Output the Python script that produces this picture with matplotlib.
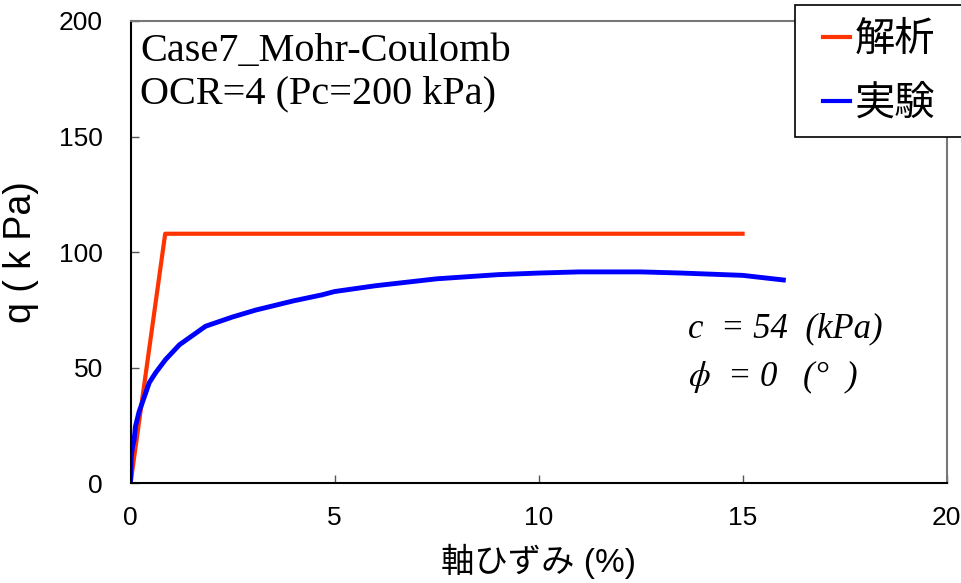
import matplotlib
matplotlib.use("Agg")
import matplotlib.pyplot as plt
from matplotlib.patches import Rectangle

plt.rcParams['mathtext.fontset'] = 'stix'

# analysis (Mohr-Coulomb) result
strain_ana = [0, 0.85, 15.0]
q_ana = [0, 108, 108]

# test result
strain_exp = [0, 0.02, 0.05, 0.09, 0.12, 0.21, 0.29, 0.46, 0.62, 0.86, 1.2,
              1.84, 2.5, 3.07, 4.0, 4.7, 5.0, 6.0, 7.5, 9.0, 10.0, 11.0,
              12.5, 13.5, 15.0, 16.0]
q_exp = [0, 12, 16, 19, 24.6, 31, 35, 43.6, 48, 53.6, 60,
         68, 72, 75, 79, 81.6, 83, 85.5, 88.5, 90.3, 91, 91.5,
         91.5, 91, 90, 88]

labels = ['解析', '実験']
xticks = [0, 5, 10, 15, 20]
yticks = [0, 50, 100, 150, 200]

W, H = 961, 583
fig = plt.figure(figsize=(W / 100, H / 100), dpi=100)
ax = fig.add_axes([0.1358, 0.1707, 0.8492, 0.7933])

ax.plot(strain_ana, q_ana, color='#ff3300', lw=3, label=labels[0])
ax.plot(strain_exp, q_exp, color='#0000ff', lw=3.5, label=labels[1])

ax.set_xlim(0, 20)
ax.set_ylim(0, 200)
ax.set_xticks(xticks)
ax.set_yticks(yticks)
ax.tick_params(direction='in', length=6, width=1, colors='#555555',
               labelcolor='black', labelsize=19)
ax.tick_params(axis='y', pad=20)
ax.tick_params(axis='x', pad=16)
for t in ax.get_xticklabels() + ax.get_yticklabels():
    t.set_family('Liberation Sans')

for s in ['left', 'bottom']:
    ax.spines[s].set_color('black')
    ax.spines[s].set_linewidth(1.5)
for s in ['top', 'right']:
    ax.spines[s].set_color('#777777')
    ax.spines[s].set_linewidth(1.5)

ax.set_xlabel('軸ひずみ (%)', fontsize=24,
              family=['Liberation Sans', 'Noto Sans CJK JP'], labelpad=10)
ax.set_ylabel('q ( k Pa)', fontsize=27, family='Liberation Sans', labelpad=14)

ax.text(0.012, 0.975, 'Case7_Mohr-Coulomb\nOCR=4 (Pc=200 kPa)',
        transform=ax.transAxes, va='top', ha='left',
        family='Liberation Serif', fontsize=29, linespacing=1.2)

ax.text(0.683, 0.317, 'c  = 54  (kPa)', transform=ax.transAxes,
        va='baseline', family='Liberation Serif', style='italic', fontsize=25)
ax.text(0.683, 0.21, r'$\phi$  = 0   (°  )', transform=ax.transAxes,
        va='baseline', family='Liberation Serif', style='italic', fontsize=25)

# legend box runs off the right edge of the figure
fig.patches.append(Rectangle((795 / W, 1 - 137 / H), 180 / W, 132 / H,
                             transform=fig.transFigure, facecolor='white',
                             edgecolor='black', lw=1.2, zorder=3))
leg = fig.legend(loc='upper left', bbox_to_anchor=(823 / W, 1 - 19 / H),
                 prop={'family': 'Noto Sans CJK JP', 'size': 29},
                 handlelength=0.68, handletextpad=0.1, borderpad=0.0,
                 labelspacing=0.57, frameon=False, borderaxespad=0)
leg.set_zorder(4)
for h in leg.get_lines():
    h.set_linewidth(3)

fig.savefig('out.png', dpi=100)
